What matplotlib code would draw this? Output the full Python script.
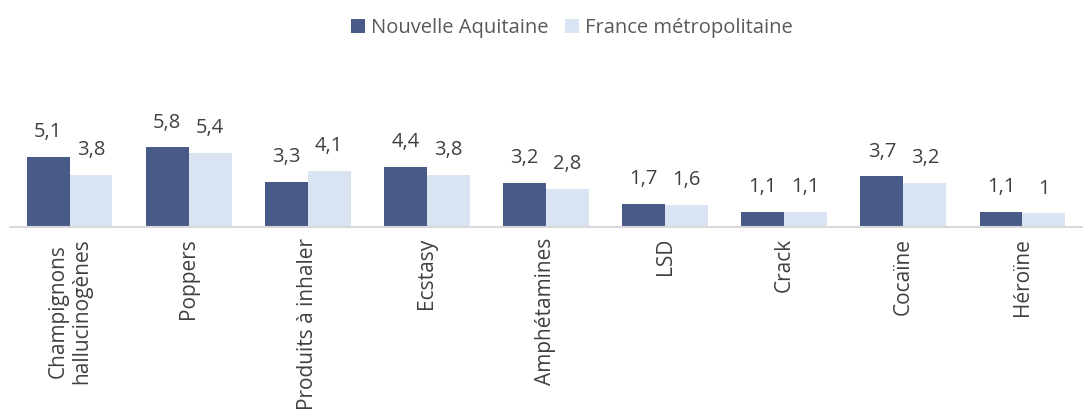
import matplotlib
matplotlib.use("Agg")
import matplotlib.pyplot as plt
import numpy as np

categories = ["Champignons\nhallucinogènes", "Poppers", "Produits à inhaler", "Ecstasy",
              "Amphétamines", "LSD", "Crack", "Cocaïne", "Héroïne"]
nouvelle_aquitaine = [5.1, 5.8, 3.3, 4.4, 3.2, 1.7, 1.1, 3.7, 1.1]
france_metro = [3.8, 5.4, 4.1, 3.8, 2.8, 1.6, 1.1, 3.2, 1.0]
series_names = ["Nouvelle Aquitaine", "France métropolitaine"]

def fmt(v):
    s = ("%.1f" % v).rstrip("0").rstrip(".")
    return s.replace(".", ",")

plt.rcParams['font.family'] = ['Open Sans', 'DejaVu Sans']
text_color = "#595959"
dark = "#485a88"
light = "#dae3f1"

fig = plt.figure(figsize=(10.91, 4.12), dpi=100)
ax = fig.add_axes([10/1091, (412-227)/412, (1082-10)/1091, (227-80)/412])

x = np.arange(len(categories))
w = 0.36
b1 = ax.bar(x - w/2, nouvelle_aquitaine, w, color=dark, label=series_names[0])
b2 = ax.bar(x + w/2, france_metro, w, color=light, label=series_names[1])

for bars, vals in ((b1, nouvelle_aquitaine), (b2, france_metro)):
    for r, v in zip(bars, vals):
        ax.annotate(fmt(v), (r.get_x() + r.get_width()/2, r.get_height()),
                    xytext=(0, 10.5), textcoords="offset points", ha="center", va="bottom",
                    fontsize=14.5, color="#404040")

ax.set_xlim(-0.5, len(categories) - 0.5)
ax.set_ylim(0, 10.7)
ax.set_yticks([])
for s in ("top", "right", "left"):
    ax.spines[s].set_visible(False)
ax.spines["bottom"].set_color("#d9d9d9")
ax.spines["bottom"].set_linewidth(1.5)
ax.set_xticks(x)
ax.set_xticklabels(categories, rotation=90, fontsize=15, color="#404040", linespacing=1.15,
                   va="top", ha="center")
ax.tick_params(axis="x", length=0, pad=8)

fig.legend(handles=[b1, b2], labels=series_names, loc="upper center", bbox_to_anchor=(0.524, 1.0),
           ncol=2, frameon=False, fontsize=14.5, handlelength=0.7, handleheight=0.7,
           handletextpad=0.3, columnspacing=0.8, labelcolor=text_color)

fig.savefig("out.png", dpi=100)
